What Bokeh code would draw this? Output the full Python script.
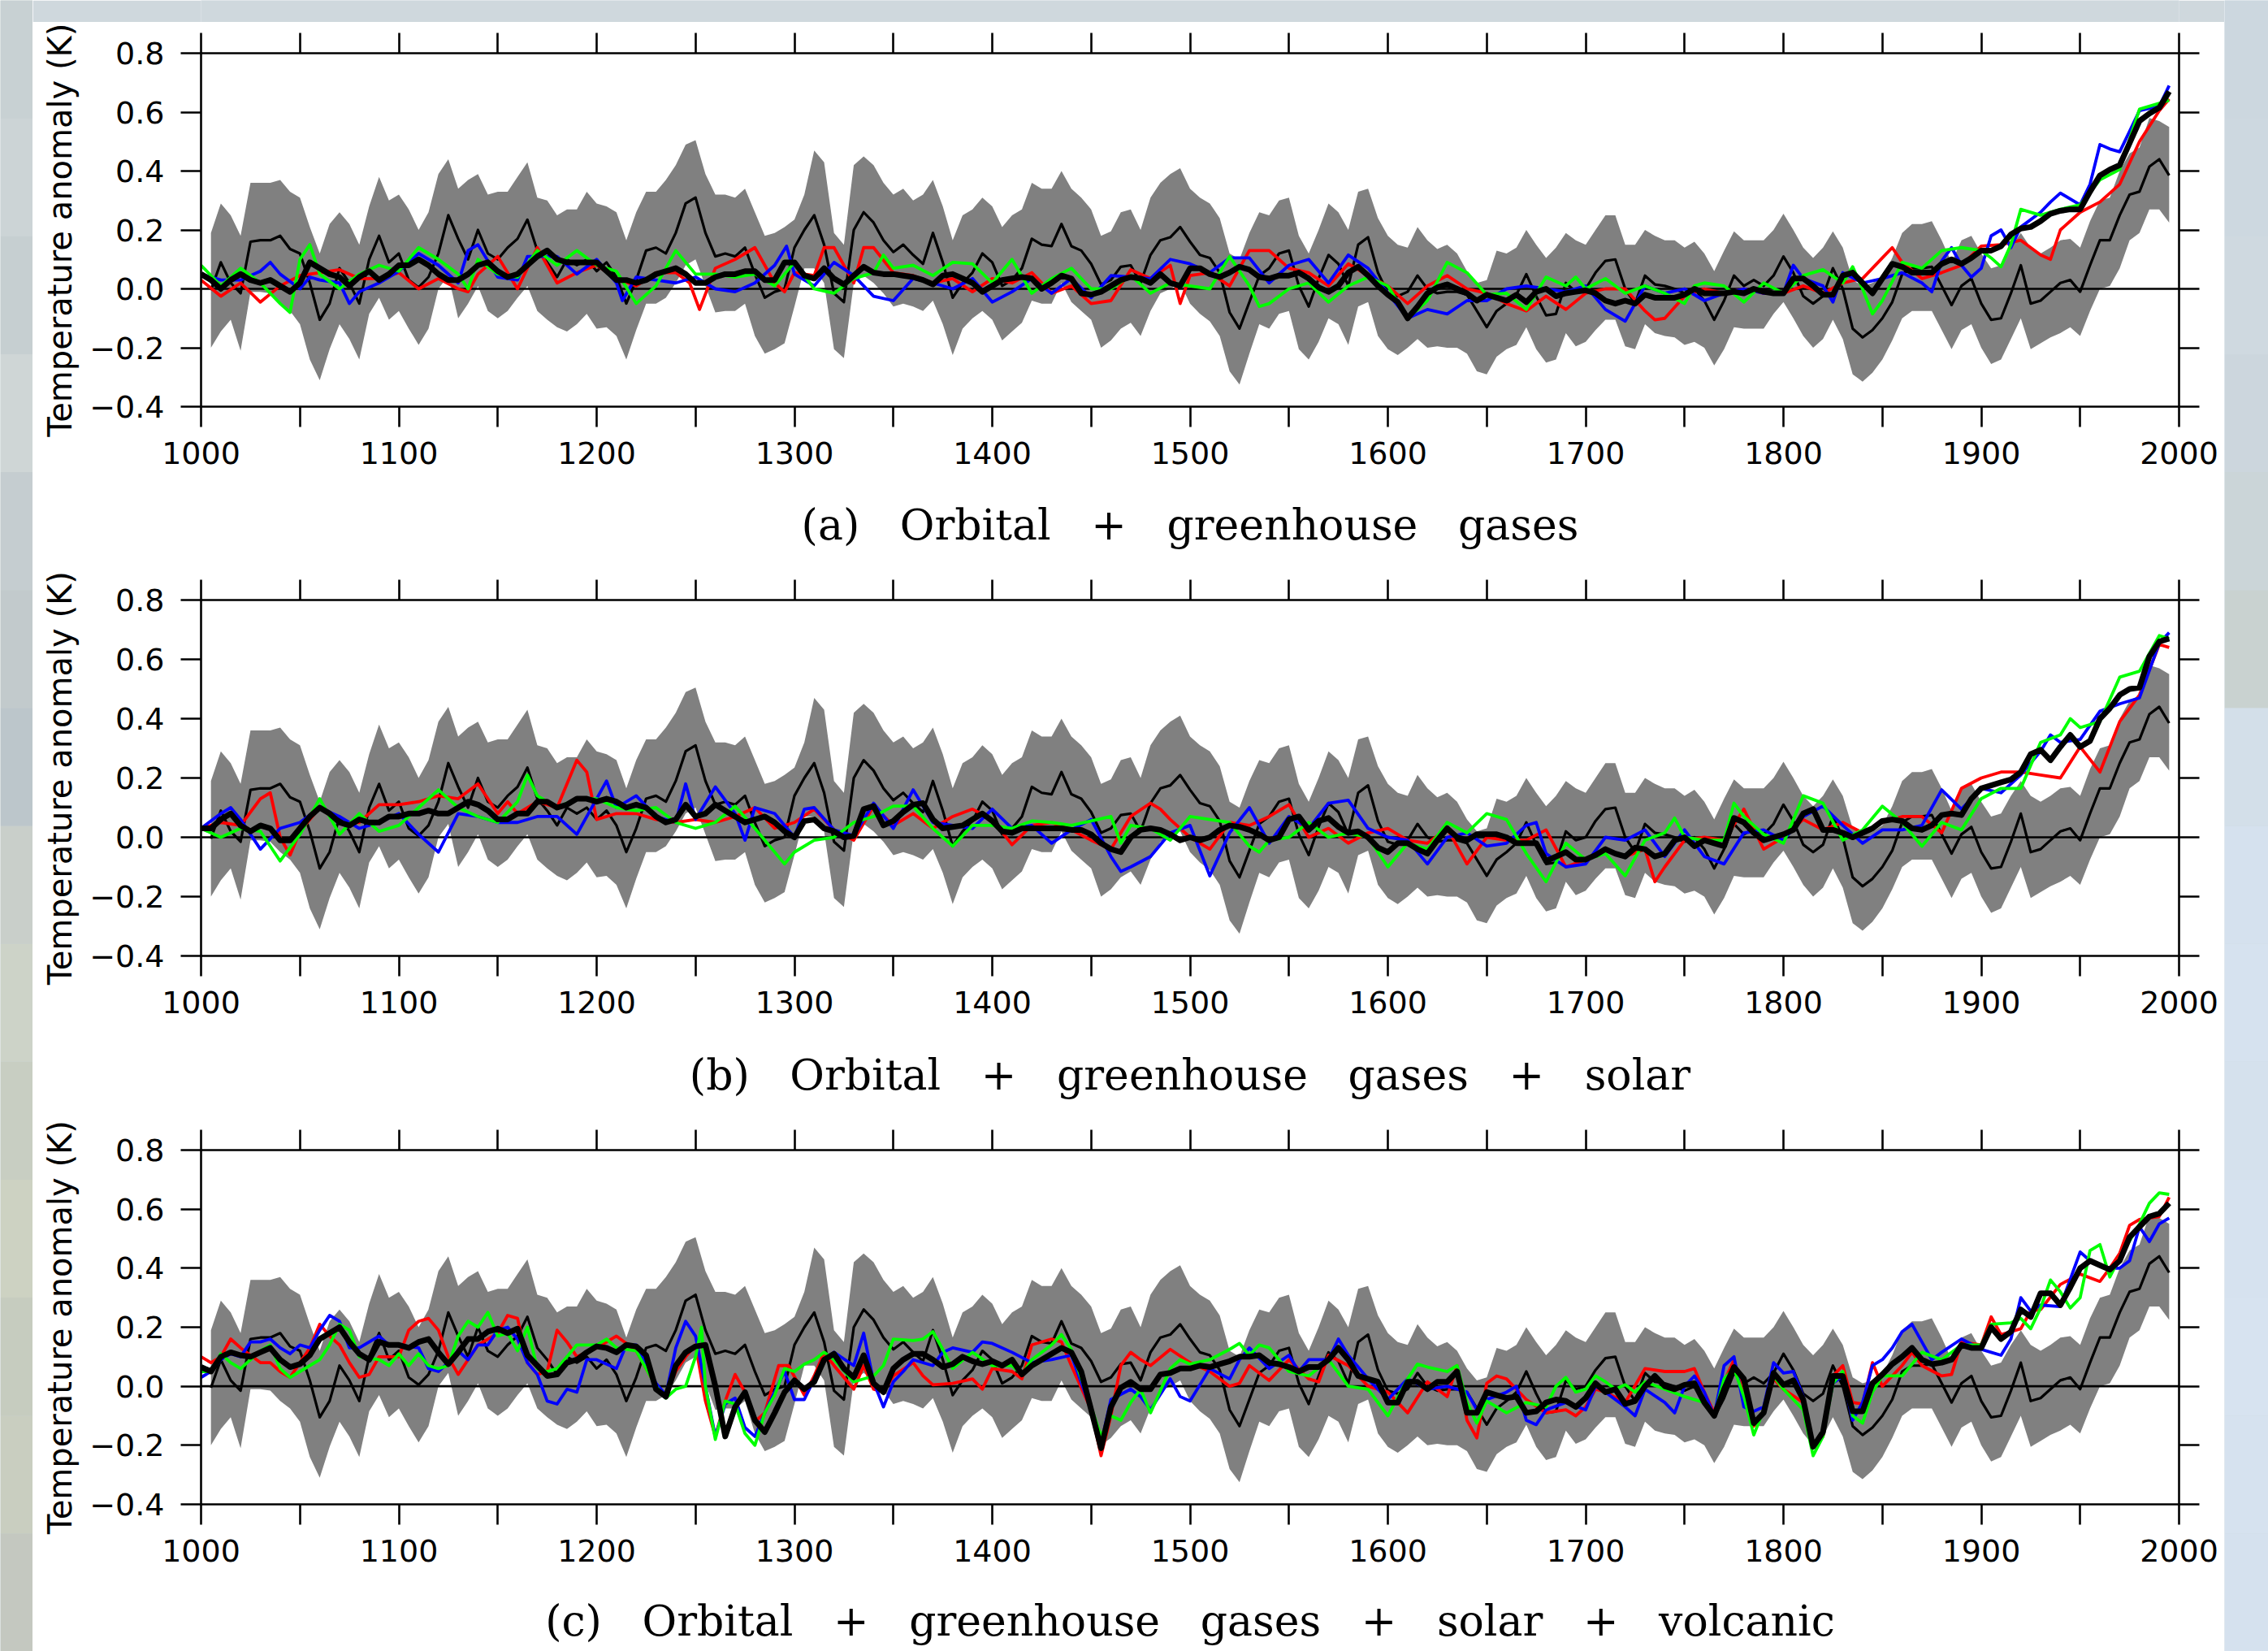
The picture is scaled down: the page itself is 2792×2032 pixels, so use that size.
from bokeh.plotting import figure
from bokeh.layouts import row, column
from bokeh.models import Range1d, FixedTicker, LinearAxis, Span
from bokeh.core.properties import value
from bokeh.embed import file_html
from bokeh.resources import INLINE

# reconstruction envelope and mean, every 5 years from 1005 to 1995
UPPER = [
.19,.29,.25,.18,.36,.36,.36,.37,.33,.31,.21,.12,.22,.26,.22,.15,.28,.38,.30,
.32,.27,.20,.26,.39,.44,.34,.37,.39,.32,.33,.33,.38,.43,.31,.30,.25,.27,.27,.33,.29,
.28,.26,.165,.26,.33,.33,.37,.42,.49,.505,.39,.32,.32,.31,.34,.26,.18,.19,.21,.235,
.32,.47,.43,.19,.15,.42,.45,.42,.36,.32,.34,.30,.32,.37,.28,.165,.25,.27,.31,.28,
.21,.25,.27,.36,.34,.34,.40,.34,.31,.27,.18,.195,.26,.27,.20,.31,.36,.39,.41,.34,
.31,.29,.24,.12,.10,.19,.26,.25,.30,.31,.18,.12,.20,.29,.26,.20,.33,.34,.24,.18,
.15,.14,.21,.165,.135,.15,.12,.06,.02,.03,.13,.12,.14,.20,.15,.105,.14,.19,.165,.15,
.20,.25,.25,.15,.15,.20,.18,.165,.165,.14,.16,.12,.06,.13,.195,.165,.165,.165,.20,.255,
.20,.14,.105,.14,.195,.14,.03,.01,.02,.04,.105,.19,.22,.22,.23,.165,.09,.165,.18,.12,
.07,.08,.14,.19,.14,.12,.14,.165,.17,.14,.23,.30,.31,.40,.46,.48,.58,.57,.55]
LOWER = [
-.20,-.145,-.105,-.21,-.01,-.01,-.015,-.05,-.075,-.12,-.24,-.31,-.205,-.12,-.17,-.24,-.085,-.03,-.105,
-.075,-.135,-.19,-.135,0,.045,-.10,-.05,.01,-.075,-.10,-.075,-.03,.01,-.075,-.105,-.13,-.145,-.12,-.085,-.135,
-.13,-.16,-.24,-.14,-.05,-.05,-.03,.02,.08,.10,.01,-.08,-.075,-.075,-.05,-.16,-.22,-.205,-.185,-.06,
.07,.07,.02,-.205,-.235,.02,.045,.02,-.015,-.06,-.05,-.06,-.075,-.04,-.12,-.225,-.135,-.10,-.075,-.105,
-.175,-.145,-.115,-.04,-.05,-.05,.02,-.045,-.075,-.105,-.20,-.175,-.135,-.115,-.16,-.075,-.015,0,.02,-.05,
-.085,-.11,-.16,-.28,-.325,-.22,-.12,-.135,-.085,-.075,-.205,-.24,-.18,-.10,-.12,-.19,-.06,-.045,-.16,-.205,
-.225,-.20,-.17,-.20,-.195,-.20,-.20,-.22,-.28,-.29,-.23,-.205,-.19,-.13,-.205,-.25,-.24,-.15,-.195,-.18,
-.14,-.105,-.105,-.195,-.205,-.12,-.15,-.16,-.165,-.19,-.18,-.20,-.26,-.205,-.13,-.135,-.135,-.135,-.085,-.045,
-.10,-.16,-.20,-.17,-.105,-.17,-.29,-.315,-.285,-.24,-.175,-.10,-.075,-.075,-.075,-.14,-.205,-.14,-.12,-.20,
-.255,-.24,-.17,-.10,-.205,-.185,-.165,-.15,-.13,-.16,-.075,0,.01,.07,.165,.19,.27,.27,.225]
RECON = [
-.005,.09,.02,-.015,.16,.165,.165,.18,.135,.12,.02,-.105,-.05,.07,.02,-.05,.10,.18,.09,
.12,.03,.005,.04,.12,.25,.17,.10,.20,.12,.10,.14,.17,.235,.13,.09,.04,.10,.08,.10,.06,
.09,.04,-.05,.03,.13,.14,.12,.19,.29,.31,.19,.11,.12,.11,.14,.05,-.03,-.01,0,.14,
.20,.25,.15,-.015,-.045,.20,.26,.225,.165,.125,.15,.115,.085,.19,.09,-.03,.02,.055,.12,.09,
.01,.03,.07,.17,.15,.145,.22,.145,.13,.085,.015,.03,.075,.08,.02,.115,.165,.175,.21,.16,
.115,.105,.055,-.08,-.135,-.045,.045,.07,.12,.13,.01,-.06,.035,.115,.085,.01,.15,.175,.055,-.015,
-.025,-.01,.045,0,-.015,-.01,-.01,-.02,-.075,-.13,-.075,-.05,-.02,.05,-.025,-.09,-.085,.02,-.01,0,
.055,.095,.10,0,-.05,.045,.015,.01,0,-.015,0,-.04,-.105,-.04,.045,.01,.03,.01,.045,.11,
.055,-.025,-.05,-.025,.07,0,-.135,-.165,-.14,-.10,-.045,.05,.07,.07,.075,.01,-.055,.01,.035,-.05,
-.105,-.10,-.015,.08,-.05,-.04,-.01,.02,.03,-.01,.08,.165,.165,.25,.32,.33,.415,.44,.385]

# ensemble means, every 5 years from 1000 to 1995
MEAN_A = [
.05,.03,0,.03,.05,.03,.02,.03,.01,-.01,.02,.09,.07,.05,.04,.01,.04,.06,.03,.05,
.08,.08,.10,.08,.05,.03,.03,.05,.08,.09,.06,.04,.05,.08,.11,.13,.10,.09,.09,.09,
.09,.06,.03,.03,.02,.03,.05,.06,.07,.05,.02,.02,.04,.05,.05,.06,.06,.03,.03,.09,
.09,.045,.035,.07,.035,.015,.045,.075,.055,.05,.05,.045,.04,.03,.015,.045,.05,.035,.02,-.01,
.01,.03,.035,.04,.035,0,.02,.045,.035,-.015,-.02,-.01,.01,.03,.04,.035,.02,.05,.02,.01,
.07,.07,.05,.04,.055,.075,.065,.04,.035,.045,.045,.055,.035,.005,-.01,.01,.055,.075,.045,.01,
-.02,-.045,-.10,-.06,-.015,.005,.015,0,-.015,-.04,-.02,-.03,-.04,-.02,-.045,-.01,0,-.025,-.015,-.01,
-.005,-.015,-.04,-.05,-.04,-.05,-.02,-.03,-.03,-.03,-.02,0,-.015,-.015,-.015,-.01,-.015,0,-.01,-.015,
-.015,.035,.035,.01,-.02,-.02,.045,.055,.02,-.015,.035,.085,.075,.055,.055,.055,.085,.10,.085,.105,
.13,.13,.145,.185,.205,.21,.23,.255,.265,.27,.27,.33,.385,.405,.42,.495,.57,.595,.615,.67]
MEAN_B = [
.03,.03,.06,.08,.04,.02,.04,.03,-.01,-.01,.03,.07,.10,.08,.05,.04,.06,.05,.05,.07,
.07,.08,.08,.09,.08,.08,.10,.12,.11,.09,.06,.06,.08,.08,.12,.12,.10,.11,.13,.13,
.12,.13,.12,.10,.11,.10,.07,.05,.06,.11,.07,.08,.11,.09,.07,.05,.06,.07,.05,.02,
0,.055,.06,.03,.02,0,.005,.095,.105,.04,.055,.085,.11,.115,.06,.03,.035,.04,.06,.08,
.055,.02,.015,.03,.03,.03,.03,.03,.025,.025,.01,-.02,-.04,-.05,0,.025,.03,.025,.01,-.01,
0,-.01,0,.025,.04,.035,.025,.01,-.01,0,.06,.07,.025,.055,.065,.035,.015,.02,0,-.035,
-.05,-.02,-.02,-.04,-.055,-.01,.03,0,-.01,.01,.01,.01,0,-.02,-.02,-.02,-.08,-.065,-.05,-.075,
-.075,-.06,-.04,-.055,-.065,-.035,-.04,-.065,-.055,-.01,0,-.03,-.01,-.02,-.03,.065,.05,.015,-.01,0,
.01,.025,.08,.095,.025,.025,.015,0,.015,.03,.055,.06,.055,.03,.025,.04,.075,.08,.075,.13,
.165,.175,.185,.195,.22,.28,.295,.26,.305,.345,.305,.325,.40,.435,.48,.50,.505,.61,.66,.67]
MEAN_C = [
.065,.05,.10,.115,.105,.10,.115,.13,.09,.065,.075,.105,.16,.18,.20,.15,.11,.09,.15,.14,
.14,.13,.15,.16,.115,.075,.115,.16,.16,.185,.195,.18,.195,.105,.07,.035,.04,.08,.09,.115,
.135,.13,.115,.14,.135,.105,-.01,-.035,.07,.115,.135,.14,0,-.17,-.07,-.02,-.115,-.155,-.09,-.02,
.02,-.01,.015,.09,.11,.06,.03,.105,.01,-.02,.06,.09,.11,.11,.09,.065,.075,.10,.085,.075,
.085,.07,.09,.04,.07,.09,.11,.13,.115,.05,-.08,-.21,-.07,-.005,.015,-.01,-.01,.04,.045,.06,
.06,.07,.065,.075,.085,.10,.10,.105,.08,.075,.065,.05,.065,.065,.09,.13,.09,.035,.025,.015,
-.055,-.055,.015,.015,-.01,.015,.015,.05,-.09,-.09,-.02,-.03,-.04,-.035,-.09,-.085,-.055,-.045,-.05,-.07,
-.04,.01,-.02,-.01,-.06,-.05,0,.035,0,-.01,.005,.01,-.055,-.10,-.01,.065,.025,-.125,-.09,.045,
.005,.02,-.045,-.205,-.155,.035,.035,-.085,-.085,.01,.04,.075,.10,.13,.09,.075,.08,.09,.14,.13,
.13,.20,.16,.185,.26,.235,.315,.315,.275,.335,.40,.425,.41,.395,.425,.505,.54,.575,.585,.62]

RED_A = {1000:.03,1010:-.025,1020:.02,1030:-.045,1040:.01,1050:.045,1060:.055,1070:.065,1080:.035,1090:.035,1100:.055,1110:0,1120:.035,1130:0,1135:-.01,1140:.05,1150:.11,1160:0,1170:.14,1180:.02,1190:.055,1200:.08,1210:.035,1220:.01,1230:.055,1240:.055,1247:.02,1252:-.07,1260:.07,1270:.10,1280:.14,1290:.02,1295:-.01,1300:.055,1310:.045,1315:.14,1320:.14,1330:.02,1335:.14,1340:.14,1350:.055,1360:.045,1370:.02,1380:.035,1390:-.01,1400:.035,1410:.02,1420:.055,1430:-.015,1440:.01,1450:-.05,1460:-.04,1470:.065,1480:.035,1490:.08,1495:-.05,1500:.045,1510:.055,1520:.01,1530:.13,1540:.13,1550:.07,1560:.055,1570:.01,1580:.085,1590:.045,1600:.01,1610:-.05,1620:.01,1630:.045,1640:0,1650:-.015,1660:-.05,1670:-.075,1680:-.025,1690:-.07,1700:-.015,1710:0,1720:0,1730:-.075,1735:-.105,1740:-.10,1750:-.025,1760:0,1770:-.015,1780:0,1790:-.015,1800:-.015,1810:.01,1820:-.015,1830:.02,1840:.035,1850:.105,1855:.14,1860:.09,1870:.035,1880:.055,1890:.08,1900:.145,1910:.15,1920:.165,1930:.115,1935:.10,1940:.20,1950:.26,1960:.295,1970:.355,1980:.50,1990:.605,1995:.645}
GREEN_A = {1000:.08,1010:.01,1020:.07,1030:.02,1040:-.05,1045:-.08,1050:.10,1055:.15,1060:.05,1070:0,1080:.05,1090:.08,1100:.06,1110:.14,1120:.10,1130:.05,1135:0,1140:.10,1150:.05,1160:.04,1170:.13,1180:.08,1190:.13,1200:.08,1210:.06,1220:-.05,1230:.01,1240:.13,1250:.05,1260:.05,1270:.04,1280:.05,1290:.01,1300:.09,1310:0,1320:-.015,1330:.035,1340:.055,1345:.115,1350:.07,1360:.08,1370:.045,1380:.09,1390:.085,1400:.02,1410:.10,1420:-.015,1430:.035,1440:.07,1450:0,1460:0,1470:.045,1480:-.015,1490:.02,1500:.01,1510:0,1520:.11,1530:.01,1535:-.06,1540:-.05,1550:0,1560:.02,1570:-.045,1580:.01,1590:.04,1600:.01,1610:-.10,1620:-.04,1630:.09,1640:.055,1650:-.02,1660:-.015,1670:-.07,1680:.04,1690:.01,1695:.04,1700:0,1710:.035,1720:-.015,1730:.01,1740:-.015,1750:-.05,1755:.01,1760:.02,1770:.01,1780:-.045,1790:.02,1800:-.015,1810:.045,1820:.065,1830:.02,1835:.075,1840:0,1845:-.085,1850:-.04,1860:.09,1870:.07,1880:.13,1890:.14,1900:.13,1905:.105,1910:.075,1915:.15,1920:.27,1930:.25,1940:.27,1950:.285,1960:.37,1970:.405,1980:.61,1990:.63,1995:.64}
BLUE_A = {1000:.05,1010:.03,1020:.03,1030:.06,1035:.09,1040:.05,1050:0,1055:.04,1060:.03,1070:.02,1075:-.05,1080:-.01,1090:.02,1100:.06,1110:.12,1120:.08,1130:.02,1135:.13,1140:.15,1150:.04,1160:.03,1165:.11,1170:.11,1180:.11,1190:.05,1200:.10,1210:.02,1213:-.04,1220:.04,1230:.03,1240:.02,1250:.04,1260:0,1270:-.01,1280:.02,1290:.08,1296:.145,1300:.05,1310:.01,1320:.09,1330:.045,1340:-.025,1350:-.04,1360:.035,1370:.02,1380:0,1390:.035,1400:-.045,1410:-.01,1420:.035,1430:-.015,1440:.035,1450:-.03,1460:.045,1470:.04,1480:.035,1490:.10,1500:.085,1510:.055,1520:.105,1530:.105,1540:.02,1550:.08,1560:.10,1570:.02,1580:.115,1590:.07,1600:-.015,1610:-.10,1620:-.07,1630:-.085,1640:-.04,1650:-.04,1660:0,1670:.01,1680:0,1690:-.01,1700:.01,1710:-.07,1720:-.11,1730:.01,1740:-.015,1750:0,1760:-.04,1770:-.015,1780:0,1790:-.015,1800:-.015,1805:.08,1810:.035,1820:.01,1825:-.045,1830:.055,1840:.02,1850:.035,1860:.055,1870:.02,1875:-.01,1880:.095,1885:.14,1890:.08,1895:.04,1900:.07,1905:.18,1910:.20,1915:.14,1920:.21,1930:.26,1935:.295,1940:.325,1950:.285,1955:.355,1960:.49,1965:.475,1970:.465,1975:.535,1980:.605,1990:.62,1995:.69}

RED_B = {1000:.03,1010:.05,1020:.04,1030:.13,1035:.15,1040:0,1045:-.06,1050:.02,1060:.10,1070:.05,1080:.05,1090:.11,1100:.11,1110:.12,1120:.14,1130:.13,1140:.18,1150:.08,1155:.12,1160:.08,1170:.12,1180:.10,1190:.26,1195:.22,1200:.06,1210:.08,1220:.08,1230:.06,1240:.05,1250:.06,1260:.05,1270:.07,1280:.10,1290:.03,1300:.05,1310:.095,1320:.025,1330:-.01,1340:.105,1350:.04,1360:.08,1370:.03,1380:.07,1390:.095,1400:.06,1410:-.025,1420:.04,1430:.05,1440:.025,1450:-.01,1460:-.04,1470:.07,1480:.115,1485:.095,1490:.06,1500:0,1510:-.04,1520:.05,1530:.04,1540:.07,1550:.11,1560:0,1570:.03,1580:-.02,1590:.015,1600:.03,1610:-.01,1620:-.02,1630:.03,1640:-.09,1650:0,1660:-.01,1670:-.01,1680:.025,1690:-.10,1700:-.075,1710:-.04,1720:-.065,1730:-.04,1735:-.15,1740:-.10,1750:-.01,1760:0,1770:-.01,1780:.095,1790:-.04,1800:0,1810:.06,1820:.025,1830:.05,1840:.015,1850:.05,1860:.07,1870:.07,1880:.015,1890:.165,1900:.20,1910:.22,1920:.22,1930:.21,1940:.20,1950:.305,1960:.22,1970:.39,1980:.48,1990:.65,1995:.64}
GREEN_B = {1000:.03,1010:0,1020:.03,1030:.02,1040:-.08,1050:.01,1060:.13,1070:.01,1080:.08,1090:.02,1100:.04,1110:.10,1120:.16,1130:.10,1140:.07,1150:.05,1160:.12,1165:.21,1170:.14,1180:.10,1190:.13,1200:.13,1210:.10,1220:.09,1230:.10,1240:.05,1250:.03,1260:.05,1270:.105,1280:.03,1295:-.09,1300:-.05,1310:-.01,1320:0,1330:.05,1340:.07,1350:.105,1360:.105,1370:.03,1380:-.03,1390:.04,1400:.04,1410:.03,1420:.055,1430:.05,1440:.04,1450:.055,1460:.07,1465:-.02,1470:.04,1480:.03,1490:-.01,1500:.07,1510:.06,1520:.05,1530:-.03,1535:-.05,1540:-.01,1550:0,1560:.05,1570:0,1580:.015,1590:0,1600:-.10,1610:-.02,1620:-.04,1630:.05,1640:.015,1650:.08,1660:.06,1670:-.055,1680:-.15,1690:-.02,1700:-.075,1710:-.055,1720:-.13,1730:-.01,1740:.015,1745:.065,1750:0,1760:-.01,1770:-.01,1775:.115,1780:.07,1790:.01,1800:-.02,1810:.14,1820:.115,1830:-.01,1840:.025,1850:.105,1860:.05,1870:-.03,1880:.05,1890:.025,1900:.13,1910:.165,1920:.165,1930:.32,1940:.345,1945:.40,1950:.37,1960:.39,1970:.54,1980:.56,1990:.68,1995:.67}
BLUE_B = {1000:.03,1010:.08,1015:.10,1020:.06,1030:-.04,1040:.03,1050:.05,1060:.10,1070:.07,1080:.03,1090:.05,1100:.08,1110:.01,1120:-.05,1130:.08,1140:.07,1150:.05,1160:.05,1170:.07,1180:.07,1190:.01,1200:.13,1205:.19,1210:.10,1220:.14,1230:.07,1240:.05,1245:.18,1250:.06,1260:.17,1270:.08,1275:-.01,1280:.10,1290:.08,1300:0,1305:.095,1310:.10,1320:.025,1330:.005,1340:.115,1350:.03,1360:.16,1370:.05,1380:.04,1390:.03,1400:.095,1410:.03,1420:.04,1430:-.02,1440:.025,1450:.06,1460:-.065,1465:-.115,1470:-.10,1480:-.065,1490:.015,1500:.04,1510:-.13,1520:.015,1530:.10,1540:-.02,1550:.07,1560:.03,1570:.115,1580:.125,1590:.03,1600:0,1610:-.01,1620:-.09,1630:0,1640:.015,1650:-.03,1660:-.02,1670:.04,1675:.05,1680:-.055,1690:-.10,1700:-.09,1710:0,1720:-.01,1730:.025,1740:-.065,1750:.025,1760:-.065,1770:-.09,1780:.015,1790:.025,1800:-.01,1810:.07,1820:.105,1830:.04,1840:-.02,1850:.025,1860:.025,1870:.04,1880:.16,1890:.095,1900:.165,1910:.15,1920:.21,1930:.29,1935:.345,1940:.32,1950:.33,1960:.425,1970:.45,1980:.47,1990:.655,1995:.69}

RED_C = {1000:.10,1005:.08,1010:.10,1015:.16,1020:.13,1030:.08,1035:.08,1040:.05,1045:.03,1050:.08,1055:.13,1060:.21,1065:.17,1070:.14,1075:.08,1080:.03,1085:.04,1090:.10,1100:.10,1105:.19,1110:.22,1115:.23,1120:.19,1125:.10,1130:.04,1135:.09,1140:.14,1150:.18,1155:.24,1160:.23,1165:.08,1170:.04,1175:.05,1180:.19,1185:.15,1190:.10,1200:.13,1210:.17,1220:.12,1230:0,1235:-.03,1240:.05,1245:.10,1250:.14,1255:-.05,1260:-.17,1265:-.05,1270:.04,1275:-.02,1280:-.12,1285:-.09,1292:.07,1297:.07,1305:-.03,1310:.035,1315:.115,1320:.07,1330:-.01,1335:.07,1340:-.01,1345:-.02,1350:.035,1360:.08,1365:.035,1370:.005,1380:.01,1390:.025,1395:-.01,1400:.06,1410:.05,1415:.025,1420:.14,1430:.16,1435:.15,1440:.07,1450:-.08,1455:-.235,1460:-.10,1465:.07,1470:.115,1475:.09,1480:.07,1490:.125,1500:.08,1510:.05,1520:0,1525:.01,1530:.07,1540:.02,1550:.09,1560:.025,1565:.015,1570:.105,1580:.07,1590:0,1600:-.02,1610:-.09,1620:.015,1630:-.035,1635:.07,1640:-.115,1645:-.175,1650:.01,1655:.035,1660:.025,1670:-.045,1680:-.09,1690:-.08,1695:-.10,1700:-.07,1705:-.01,1710:-.02,1720:-.055,1730:.06,1740:.05,1750:.05,1755:.06,1760:-.02,1765:-.09,1770:.015,1775:.09,1780:-.035,1785:-.135,1790:-.09,1795:.025,1800:-.01,1810:-.055,1815:-.195,1820:-.17,1825:.035,1830:.07,1835:-.055,1840:-.06,1845:.08,1850:0,1860:.07,1865:.115,1870:.07,1880:.035,1885:.04,1890:.15,1900:.14,1905:.235,1910:.175,1920:.195,1925:.255,1930:.26,1940:.345,1950:.38,1960:.355,1965:.40,1970:.45,1975:.545,1980:.565,1990:.575,1995:.64}
GREEN_C = {1000:.05,1005:.05,1010:.11,1015:.08,1020:.06,1030:.12,1035:.14,1040:.06,1045:.03,1050:.05,1060:.09,1065:.14,1070:.21,1075:.19,1080:.10,1090:.09,1095:.07,1100:.11,1105:.07,1110:.11,1115:.07,1120:.06,1125:.07,1130:.17,1135:.22,1140:.20,1145:.25,1150:.17,1155:.18,1160:.12,1165:.20,1170:.06,1175:.05,1180:.06,1190:.14,1200:.14,1205:.16,1210:.13,1220:.12,1230:0,1235:-.04,1240:-.01,1245:0,1250:.10,1253:.20,1255:0,1260:-.18,1265:-.05,1270:-.06,1275:-.16,1280:-.20,1285:-.09,1290:-.03,1295:.06,1300:.05,1305:.075,1310:.09,1315:.115,1320:.09,1330:.015,1340:.035,1345:.07,1350:.16,1360:.155,1365:.16,1370:.185,1375:.125,1380:.06,1390:.115,1400:.07,1410:.07,1415:.04,1420:.09,1430:.14,1435:.175,1440:.125,1450:-.07,1455:-.17,1460:-.10,1465:-.115,1470:-.055,1475:-.01,1480:-.09,1490:.06,1495:.09,1500:.075,1510:.09,1520:.125,1525:.145,1530:.105,1535:.14,1540:.13,1550:.05,1560:.035,1570:.09,1580:0,1590:-.01,1600:-.10,1610:.025,1615:.075,1620:.065,1630:.05,1635:.07,1640:-.055,1645:-.125,1650:-.05,1660:-.09,1670:-.055,1680:-.07,1685:0,1690:.03,1695:-.02,1700:-.01,1705:.035,1710:.015,1715:-.01,1720:.005,1725:-.02,1730:.015,1740:-.01,1750:-.035,1760:-.055,1765:-.10,1770:.025,1775:.06,1780:-.035,1785:-.165,1790:-.08,1795:.035,1800:-.01,1810:-.08,1815:-.235,1820:-.17,1825:.01,1830:.05,1835:-.10,1840:-.125,1845:-.02,1850:.035,1860:.035,1870:.115,1880:.09,1890:.14,1900:.14,1905:.21,1915:.215,1920:.23,1925:.195,1930:.265,1935:.36,1940:.32,1945:.265,1950:.30,1955:.46,1960:.48,1965:.37,1970:.435,1980:.55,1985:.62,1990:.655,1995:.65}
BLUE_C = {1000:.03,1005:.05,1010:.09,1015:.11,1020:.10,1025:.15,1030:.15,1035:.16,1040:.13,1045:.11,1050:.14,1055:.13,1060:.19,1065:.24,1070:.22,1075:.13,1080:.13,1090:.17,1095:.14,1100:.14,1110:.13,1115:.06,1120:.05,1125:.08,1130:.12,1135:.09,1140:.14,1145:.14,1150:.19,1155:.20,1160:.16,1165:.08,1170:.04,1175:-.05,1180:-.06,1185:-.01,1190:-.02,1195:.09,1200:.09,1210:.06,1215:.14,1220:.14,1230:.01,1235:-.03,1240:.13,1245:.22,1250:.17,1255:0,1260:-.17,1265:-.06,1270:-.04,1275:-.14,1280:-.17,1285:-.09,1290:-.02,1295:.05,1300:-.045,1305:-.045,1310:.025,1315:.09,1320:.115,1330:.07,1335:.18,1340:.015,1345:-.07,1350:.015,1355:.05,1360:.09,1370:.07,1375:.115,1380:.13,1390:.115,1395:.15,1400:.145,1410:.115,1420:.08,1430:.09,1440:.105,1450:-.08,1455:-.195,1460:-.045,1470:-.01,1475:-.035,1480:-.08,1490:.025,1495:-.035,1500:-.05,1510:.06,1520:.025,1525:.09,1530:.13,1540:.06,1550:.105,1555:.05,1560:.09,1570:.09,1575:.16,1580:.105,1590:.025,1600:-.045,1610:.025,1620:-.01,1630:0,1640:-.02,1645:-.08,1650:-.045,1660:-.02,1665:0,1670:-.115,1675:-.13,1680:-.08,1690:-.055,1700:-.08,1705:0,1710:-.02,1720:-.07,1725:-.10,1730:-.01,1740:-.055,1745:-.09,1750:0,1755:.035,1760:-.02,1765:-.10,1770:.07,1775:.10,1780:-.07,1785:-.085,1790:-.07,1795:.08,1800:.045,1805:.05,1810:-.035,1815:-.205,1820:-.16,1825:.01,1830:.035,1835:-.115,1840:-.055,1845:.07,1850:.09,1855:.13,1860:.185,1865:.21,1870:.15,1875:.09,1880:.115,1890:.16,1900:.125,1905:.115,1910:.105,1915:.16,1920:.30,1925:.255,1930:.275,1940:.27,1950:.455,1955:.425,1960:.41,1965:.40,1970:.40,1975:.425,1980:.54,1985:.49,1990:.55,1995:.57}

Y_TICKS = [-0.4, -0.2, 0.0, 0.2, 0.4, 0.6, 0.8]
Y_LABELS = ["\u22120.4", "\u22120.2", "0.0", "0.2", "0.4", "0.6", "0.8"]
X_LABELLED = list(range(1000, 2001, 100))
X_MINOR = list(range(1050, 2000, 100))
GAP = "\u00a0\u00a0\u00a0"
CAPTIONS = [GAP.join(["(a)", "Orbital", "+", "greenhouse", "gases"]),
            GAP.join(["(b)", "Orbital", "+", "greenhouse", "gases", "+", "solar"]),
            GAP.join(["(c)", "Orbital", "+", "greenhouse", "gases", "+", "solar", "+", "volcanic"])]
LEFT_BANDS = ["#c8d1d3", "#ccd4d6", "#c6cfd1", "#cfd6d6", "#c5cdd0", "#c2cacc", "#bcc6cb", "#c9cfca",
              "#cdd3c8", "#c8cec2", "#cdd2c2", "#c6ccbf", "#c9cec0", "#c4c8c0"]
RIGHT_BANDS = ["#ccd7df", "#cdd8e0", "#cfd9e0", "#ccd6dd", "#cbd5d8", "#c9d2d0", "#d3dfe9", "#d5e1ee",
               "#d6e2ef", "#d5e1ed", "#d6e2ef", "#d7e3f0", "#d6e2ef", "#d5e1ee"]
TOP_COLOR = "#cfd8dd"

GRAY, AXW = "#808080", 2.6
FONT = "DejaVu Sans"

band_years = list(range(1005, 1996, 5))
mean_years = list(range(1000, 1996, 5))
assert len(UPPER) == len(band_years), len(UPPER)
assert len(LOWER) == len(band_years), len(LOWER)
assert len(RECON) == len(band_years), len(RECON)
for m in (MEAN_A, MEAN_B, MEAN_C):
    assert len(m) == len(mean_years), len(m)


def dline(p, d, color, width):
    xs = sorted(d)
    p.line(xs, [d[x] for x in xs], line_color=color, line_width=width, line_join="round")


def blank(ticks):
    return {t: "" for t in ticks}


def panel(top, frame_h, bottom, red, green, blue, mean):
    p = figure(width=2698, height=top + frame_h + bottom, frame_width=2435, frame_height=frame_h,
               x_range=Range1d(1000, 2000), y_range=Range1d(-0.4, 0.8),
               output_backend="svg", toolbar_location=None, x_axis_location=None, y_axis_location=None,
               min_border_left=207, min_border_right=56, min_border_top=top, min_border_bottom=bottom,
               background_fill_color="white", border_fill_color="white", outline_line_color=None)
    p.grid.visible = False
    band = p.varea(band_years, UPPER, LOWER, fill_color=GRAY)
    band.level = "image"
    p.add_layout(Span(location=0, dimension="width", line_color="black", line_width=AXW, level="underlay"))
    p.line(band_years, RECON, line_color="black", line_width=3.2, line_join="round")
    dline(p, red, "#ff0000", 3.8)
    dline(p, blue, "#0000ff", 3.8)
    dline(p, green, "#00ff00", 3.8)
    p.line(mean_years, mean, line_color="black", line_width=7, line_join="round")

    xt = FixedTicker(ticks=X_LABELLED, minor_ticks=X_MINOR)
    yt = FixedTicker(ticks=Y_TICKS)
    for place in ("below", "above"):
        a = LinearAxis(ticker=xt, axis_line_width=AXW, major_tick_line_width=AXW, minor_tick_line_width=AXW,
                       major_tick_out=25, major_tick_in=0, minor_tick_out=25, minor_tick_in=0,
                       major_label_text_font=FONT, major_label_text_font_size="38px", major_label_standoff=18,
                       major_label_text_color="black")
        if place == "above":
            a.major_label_overrides = blank(X_LABELLED)
            a.major_label_standoff = 0
        p.add_layout(a, place)
    for place in ("left", "right"):
        a = LinearAxis(ticker=yt, axis_line_width=AXW, major_tick_line_width=AXW,
                       major_tick_out=25, major_tick_in=0, minor_tick_line_color=None,
                       major_label_overrides=dict(zip(Y_TICKS, Y_LABELS)),
                       major_label_text_font=FONT, major_label_text_font_size="38px", major_label_standoff=20,
                       major_label_text_color="black")
        if place == "left":
            a.axis_label = "Temperature anomaly (K)"
            a.axis_label_text_font = FONT
            a.axis_label_text_font_size = "40px"
            a.axis_label_text_font_style = "normal"
            a.axis_label_text_color = "black"
            a.axis_label_standoff = 10
        else:
            a.major_label_overrides = blank(Y_TICKS)
            a.major_label_standoff = 0
        p.add_layout(a, place)
    return p


def caption_strip(height, caption, ypos):
    s = figure(width=2698, height=height, frame_width=2435, frame_height=height,
               x_range=Range1d(1000, 2000), y_range=Range1d(0, 1),
               output_backend="svg", toolbar_location=None, x_axis_location=None, y_axis_location=None,
               min_border_left=207, min_border_right=56, min_border_top=0, min_border_bottom=0,
               background_fill_color="white", border_fill_color="white", outline_line_color=None)
    s.grid.visible = False
    s.text(x=[1500], y=[ypos], text=[caption], text_align="center", text_baseline="middle",
           text_font=value("DejaVu Serif"), text_font_size="52px", text_color="black")
    return s


def stripe(w, h, colors):
    s = figure(width=w, height=h, x_range=Range1d(0, 1), y_range=Range1d(0, len(colors)),
               output_backend="svg", toolbar_location=None, x_axis_location=None, y_axis_location=None,
               min_border=0, outline_line_color=None, background_fill_color=colors[0], border_fill_color=colors[0])
    s.grid.visible = False
    n = len(colors)
    s.quad(left=[0] * n, right=[1] * n, bottom=list(range(n)), top=list(range(1, n + 1)),
           fill_color=colors[::-1], line_color=None)
    return s


pa = panel(38, 435, 95, RED_A, GREEN_A, BLUE_A, MEAN_A)
ca = caption_strip(100, CAPTIONS[0], 0.5)
pb = panel(43, 438, 95, RED_B, GREEN_B, BLUE_B, MEAN_B)
cb = caption_strip(102, CAPTIONS[1], 0.5)
pc = panel(42, 436, 95, RED_C, GREEN_C, BLUE_C, MEAN_C)
cc = caption_strip(86, CAPTIONS[2], 0.44)
top = stripe(2698, 27, [TOP_COLOR])
left = stripe(40, 2032, LEFT_BANDS)
right = stripe(54, 2032, RIGHT_BANDS)
p = row(left, column(top, pa, ca, pb, cb, pc, cc, spacing=0), right, spacing=0)
open("out.html", "w").write(file_html(p, INLINE))
